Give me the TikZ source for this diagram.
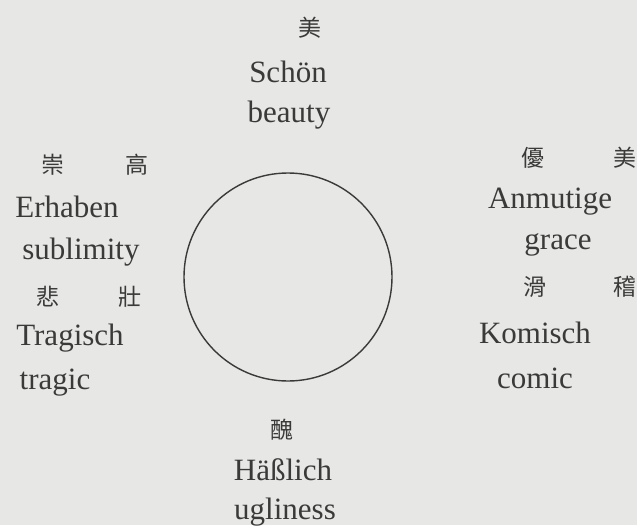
\documentclass[tikz,border=0pt]{standalone}
\usepackage{fontspec}
\setmainfont{Liberation Serif}
\newfontfamily\cjk{Noto Sans CJK TC}
\usepackage{tikz}
\usetikzlibrary{positioning}
\definecolor{papier}{HTML}{E7E7E5}
\definecolor{tinte}{HTML}{3A3A38}
\tikzset{
  % Beschriftungen
  wort/.style={text=tinte,inner sep=0pt,font=\fontsize{31}{36}\selectfont},
  zeichen/.style={text=tinte,inner sep=0pt,font=\cjk\fontsize{23}{26}\selectfont},
  kreis/.style={circle,draw=tinte,line width=1.4pt,inner sep=0pt,minimum size=208pt},
}
\begin{document}
\begin{tikzpicture}[x=1pt,y=-1pt]
  \fill[papier] (0,0) rectangle (637,525);
  \useasboundingbox (0,0) rectangle (637,525);
  \node[kreis] (mitte) at (288,277) {};
  % oben
  \node[zeichen] (mei) at (310,28) {美};
  \node[wort] (schoen) at (288,72) {Schön};
  \node[wort] (beauty) at (289,115) {beauty};
  % links
  \node[zeichen] (chonggao) at (95,165) {崇\hspace{61pt}高};
  \node[wort] (erhaben) at (67,207) {Erhaben};
  \node[wort] (sublimity) at (81,252) {sublimity};
  \node[zeichen] (beizhuang) at (89,297) {悲\hspace{60pt}壯};
  \node[wort] (tragisch) at (70,338) {Tragisch};
  \node[wort] (tragic) at (55,383) {tragic};
  % rechts
  \node[zeichen] (youmei) at (579,158) {優\hspace{69pt}美};
  \node[wort] (anmutige) at (550,202) {Anmutige};
  \node[wort] (grace) at (558,245) {grace};
  \node[zeichen] (huaji) at (580,287) {滑\hspace{67pt}稽};
  \node[wort] (komisch) at (535,333) {Komisch};
  \node[wort] (comic) at (535,378) {comic};
  % unten
  \node[zeichen] (chou) at (282,430) {醜};
  \node[wort] (haesslich) at (283,470) {Häßlich};
  \node[wort] (ugliness) at (285,512) {ugliness};
\end{tikzpicture}
\end{document}
